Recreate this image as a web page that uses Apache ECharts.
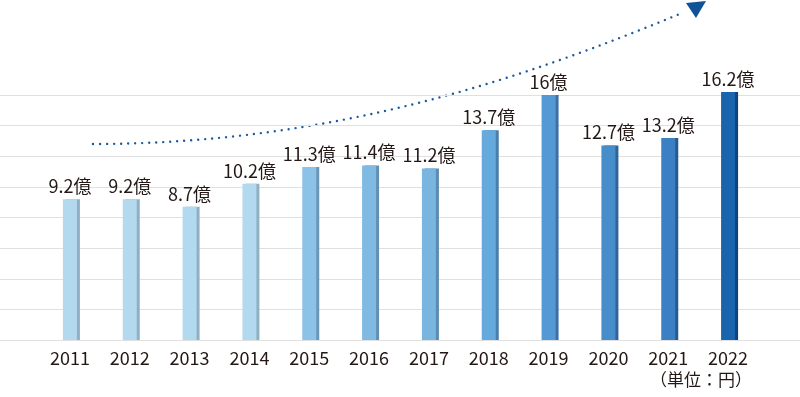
<!DOCTYPE html>
<html>
<head>
<meta charset="utf-8">
<script src="https://cdn.jsdelivr.net/npm/echarts@6/dist/echarts.min.js"></script>
<style>html,body{margin:0;padding:0;background:#fff;}#c{width:800px;height:397px;}</style>
</head>
<body>
<div id="c"></div>
<script>
const years = ['2011','2012','2013','2014','2015','2016','2017','2018','2019','2020','2021','2022'];
const values = [9.2, 9.2, 8.7, 10.2, 11.3, 11.4, 11.2, 13.7, 16, 12.7, 13.2, 16.2];
const valueLabels = ['9.2億','9.2億','8.7億','10.2億','11.3億','11.4億','11.2億','13.7億','16億','12.7億','13.2億','16.2億'];
const faceColors = ['#b3d9ef','#b3d9ef','#b3d9ef','#b3d9ef','#8cc2e7','#80bae3','#7ab5e0','#66a9dc','#5599d4','#468dca','#3a80c2','#1a63ad'];
const sideColors = ['#91afc4','#91afc4','#91afc4','#91afc4','#6a96b8','#6290b5','#5b8bb2','#4a7fad','#3c70a6','#2f6399','#285a92','#0f437f'];
const unitText = '（単位：円）';

const font = '"Noto Sans CJK JP", "Noto Sans", sans-serif';
const chart = echarts.init(document.getElementById('c'), null, {renderer: 'canvas'});

const data = values.map((v, i) => ({
  value: v,
  itemStyle: {color: faceColors[i], shadowColor: sideColors[i], shadowOffsetX: 3, shadowOffsetY: 0, shadowBlur: 0},
  label: {formatter: valueLabels[i]}
}));

chart.setOption({
  animation: false,
  grid: [
    {left: 40, right: 42, top: 95, bottom: 57},
    {left: 0, right: 0, top: 95, bottom: 57}
  ],
  xAxis: [
    {type: 'category', gridIndex: 0, data: years,
     axisLine: {show: false}, axisTick: {show: false},
     axisLabel: {color: '#231815', fontSize: 18, fontFamily: font, margin: 9}},
    {type: 'value', gridIndex: 1, min: 0, max: 1, show: false}
  ],
  yAxis: [
    {type: 'value', gridIndex: 0, min: 0, max: 16, interval: 2, show: false, splitLine: {show: false}},
    {type: 'value', gridIndex: 1, min: 0, max: 16, interval: 2,
     axisLine: {show: false}, axisTick: {show: false}, axisLabel: {show: false},
     splitLine: {show: true, lineStyle: {color: '#e0e0e0', width: 1}}}
  ],
  series: [{
    type: 'bar', xAxisIndex: 0, yAxisIndex: 0, barWidth: 14, clip: false,
    data: data,
    label: {show: true, position: 'top', distance: 4, color: '#231815', fontSize: 18, fontFamily: font}
  }],
  graphic: [
    {type: 'bezierCurve', silent: true,
     shape: {x1: 93, y1: 144, cpx1: 330, cpy1: 144, cpx2: 520, cpy2: 80, x2: 682, y2: 13},
     style: {stroke: '#1d5c9c', lineWidth: 2.4, lineDash: [0.01, 7], lineCap: 'round', fill: null}},
    {type: 'polygon', silent: true,
     shape: {points: [[686, 3], [706, 1], [696, 18]]},
     style: {fill: '#0f5296'}},
    {type: 'text', left: 650, top: 371,
     style: {text: unitText, fill: '#231815', fontSize: 17, fontFamily: font}}
  ]
});
</script>
</body>
</html>
